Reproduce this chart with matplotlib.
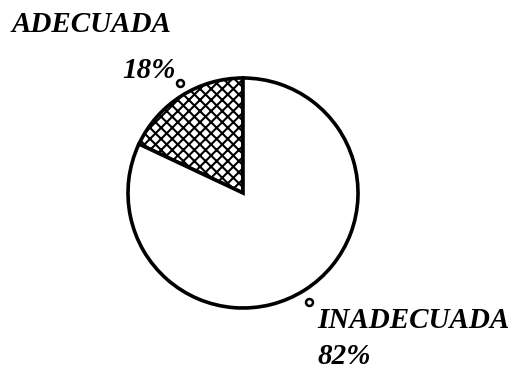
import matplotlib
matplotlib.use("Agg")
import matplotlib.pyplot as plt

labels = ["ADECUADA", "INADECUADA"]
values = [18, 82]
pct_labels = ["18%", "82%"]

W, H = 518, 376


def main():
    plt.rcParams["hatch.linewidth"] = 1.5
    fig = plt.figure(figsize=(W / 100, H / 100), dpi=100)
    ax = fig.add_axes([0, 0, 1, 1])

    wedges, _ = ax.pie(values, startangle=90, counterclock=True,
                       center=(243, H - 193), radius=115,
                       colors=["white", "white"],
                       wedgeprops={"edgecolor": "black", "linewidth": 2.6})
    wedges[0].set_hatch("xxx")

    ax.set_xlim(0, W)
    ax.set_ylim(0, H)
    ax.set_aspect("auto")
    ax.axis("off")

    font = {"family": "Liberation Serif", "weight": "bold",
            "style": "italic", "size": 21}
    # etiqueta del sector pequeno
    ax.text(12, H - 24, labels[0], ha="left", va="center", **font)
    ax.text(176, H - 70, pct_labels[0], ha="right", va="center", **font)
    ax.plot([180], [H - 83], "o", ms=5, mfc="white", mec="black", mew=1.8)
    # etiqueta del sector grande
    ax.text(317, H - 321, labels[1], ha="left", va="center", **font)
    ax.text(317, H - 356, pct_labels[1], ha="left", va="center", **font)
    ax.plot([309], [H - 302], "o", ms=5, mfc="white", mec="black", mew=1.8)

    fig.savefig("out.png", dpi=100)


if __name__ == "__main__":
    main()
